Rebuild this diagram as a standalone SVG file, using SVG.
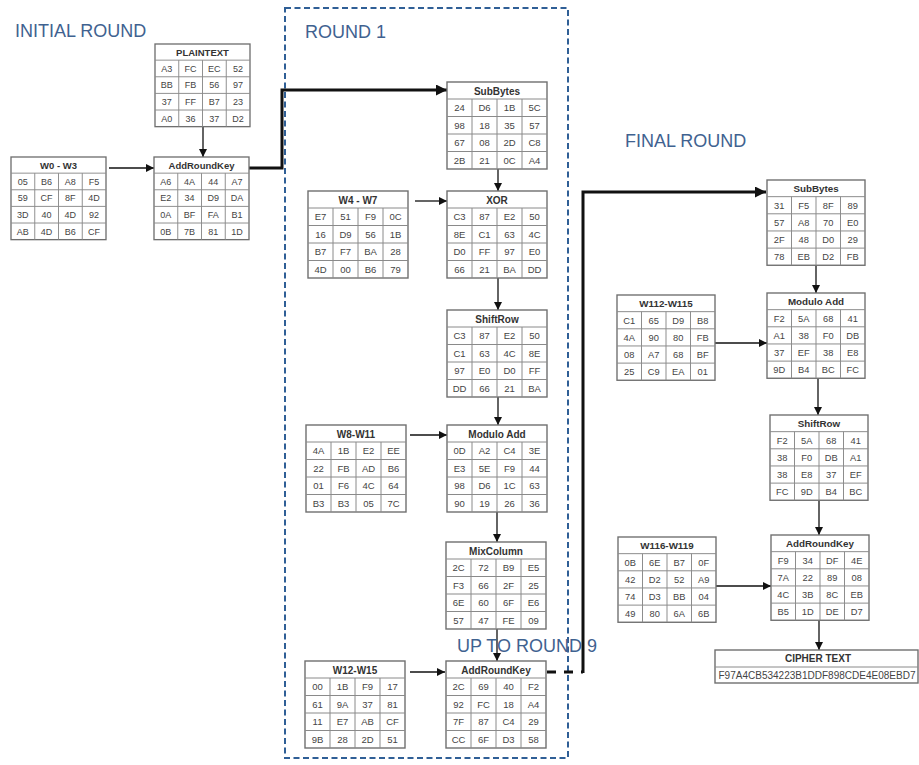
<svg xmlns="http://www.w3.org/2000/svg" xmlns:xlink="http://www.w3.org/1999/xlink" width="919" height="765" viewBox="0 0 919 765">
<style>
.tb{fill:#fff;stroke:#6f6f6f;stroke-width:1.4}
.gr{fill:none;stroke:#8a8a8a;stroke-width:1}
.hd{font-family:"Liberation Sans",Arial,sans-serif;font-size:10px;font-weight:bold;fill:#333;text-anchor:middle}
.c{font-family:"Liberation Sans",Arial,sans-serif;font-size:9.5px;fill:#444;text-anchor:middle}
.ttl{font-family:"Liberation Sans",Arial,sans-serif;font-size:18px;fill:#3F6290}
.ln{fill:none;stroke:#111;stroke-width:1.3}
.tk{fill:none;stroke:#111;stroke-width:3}
.rb{fill:none;stroke:#2F5F96;stroke-width:2;stroke-dasharray:6 3.5}
</style>
<defs>
<marker id="ah" viewBox="0 0 10 10" refX="10" refY="5" markerWidth="8" markerHeight="8" markerUnits="userSpaceOnUse" orient="auto"><path d="M0,0L10,5L0,10z" fill="#111"/></marker>
<marker id="ahb" viewBox="0 0 10 10" refX="10" refY="5" markerWidth="12" markerHeight="11" markerUnits="userSpaceOnUse" orient="auto"><path d="M0,0L10,5L0,10z" fill="#111"/></marker>
<g id="frame"><rect x="0" y="0" width="100" height="87" class="tb"/><path class="gr" d="M0,17H100M0,34.5H100M0,52H100M0,69.5H100M25,17V87M50,17V87M75,17V87"/></g>
</defs>
<rect width="919" height="765" fill="#fff"/>
<rect class="rb" x="285" y="8" width="283" height="750"/>
<text class="ttl" x="15" y="37">INITIAL ROUND</text>
<text class="ttl" x="305" y="38">ROUND 1</text>
<text class="ttl" x="625" y="147">FINAL ROUND</text>

<g id="connectors">
<path class="ln" d="M203,127V157" marker-end="url(#ah)"/>
<path class="ln" d="M109,168H154" marker-end="url(#ah)"/>
<path class="tk" d="M249,168H282V90H447" marker-end="url(#ahb)"/>
<path class="ln" d="M415,201H447" marker-end="url(#ah)"/>
<path class="ln" d="M498,169V191" marker-end="url(#ah)"/>
<path class="ln" d="M498,278V310" marker-end="url(#ah)"/>
<path class="ln" d="M498,397V425" marker-end="url(#ah)"/>
<path class="ln" d="M410,435H447" marker-end="url(#ah)"/>
<path class="ln" d="M497,512V542" marker-end="url(#ah)"/>
<path class="ln" d="M497,629V661" marker-end="url(#ah)"/>
<path class="ln" d="M410,672H445" marker-end="url(#ah)"/>
<path class="tk" d="M547,672H583" stroke-dasharray="9 8"/>
<path class="tk" d="M583,673V192H766" marker-end="url(#ahb)"/>
<path class="ln" d="M816,265V293" marker-end="url(#ah)"/>
<path class="ln" d="M715,343H767" marker-end="url(#ah)"/>
<path class="ln" d="M818,378V415" marker-end="url(#ah)"/>
<path class="ln" d="M819,500V535" marker-end="url(#ah)"/>
<path class="ln" d="M716,586H771" marker-end="url(#ah)"/>
<path class="ln" d="M819,620V650" marker-end="url(#ah)"/>
</g>

<g id="plaintext" transform="translate(155,44) scale(0.95)"><use xlink:href="#frame"/><text class="hd" x="50" y="12.5">PLAINTEXT</text>
<text class="c" y="29.2"><tspan x="12.5">A3</tspan><tspan x="37.5">FC</tspan><tspan x="62.5">EC</tspan><tspan x="87.5">52</tspan></text>
<text class="c" y="46.7"><tspan x="12.5">BB</tspan><tspan x="37.5">FB</tspan><tspan x="62.5">56</tspan><tspan x="87.5">97</tspan></text>
<text class="c" y="64.2"><tspan x="12.5">37</tspan><tspan x="37.5">FF</tspan><tspan x="62.5">B7</tspan><tspan x="87.5">23</tspan></text>
<text class="c" y="81.7"><tspan x="12.5">A0</tspan><tspan x="37.5">36</tspan><tspan x="62.5">37</tspan><tspan x="87.5">D2</tspan></text></g>

<g id="w0w3" transform="translate(11,157) scale(0.95)"><use xlink:href="#frame"/><text class="hd" x="50" y="12.5">W0 - W3</text>
<text class="c" y="29.2"><tspan x="12.5">05</tspan><tspan x="37.5">B6</tspan><tspan x="62.5">A8</tspan><tspan x="87.5">F5</tspan></text>
<text class="c" y="46.7"><tspan x="12.5">59</tspan><tspan x="37.5">CF</tspan><tspan x="62.5">8F</tspan><tspan x="87.5">4D</tspan></text>
<text class="c" y="64.2"><tspan x="12.5">3D</tspan><tspan x="37.5">40</tspan><tspan x="62.5">4D</tspan><tspan x="87.5">92</tspan></text>
<text class="c" y="81.7"><tspan x="12.5">AB</tspan><tspan x="37.5">4D</tspan><tspan x="62.5">B6</tspan><tspan x="87.5">CF</tspan></text></g>

<g id="ark0" transform="translate(154,157) scale(0.95)"><use xlink:href="#frame"/><text class="hd" x="50" y="12.5">AddRoundKey</text>
<text class="c" y="29.2"><tspan x="12.5">A6</tspan><tspan x="37.5">4A</tspan><tspan x="62.5">44</tspan><tspan x="87.5">A7</tspan></text>
<text class="c" y="46.7"><tspan x="12.5">E2</tspan><tspan x="37.5">34</tspan><tspan x="62.5">D9</tspan><tspan x="87.5">DA</tspan></text>
<text class="c" y="64.2"><tspan x="12.5">0A</tspan><tspan x="37.5">BF</tspan><tspan x="62.5">FA</tspan><tspan x="87.5">B1</tspan></text>
<text class="c" y="81.7"><tspan x="12.5">0B</tspan><tspan x="37.5">7B</tspan><tspan x="62.5">81</tspan><tspan x="87.5">1D</tspan></text></g>

<g id="subbytes1" transform="translate(447,82)"><use xlink:href="#frame"/><text class="hd" x="50" y="12.5">SubBytes</text>
<text class="c" y="29.2"><tspan x="12.5">24</tspan><tspan x="37.5">D6</tspan><tspan x="62.5">1B</tspan><tspan x="87.5">5C</tspan></text>
<text class="c" y="46.7"><tspan x="12.5">98</tspan><tspan x="37.5">18</tspan><tspan x="62.5">35</tspan><tspan x="87.5">57</tspan></text>
<text class="c" y="64.2"><tspan x="12.5">67</tspan><tspan x="37.5">08</tspan><tspan x="62.5">2D</tspan><tspan x="87.5">C8</tspan></text>
<text class="c" y="81.7"><tspan x="12.5">2B</tspan><tspan x="37.5">21</tspan><tspan x="62.5">0C</tspan><tspan x="87.5">A4</tspan></text></g>

<g id="w4w7" transform="translate(308,191)"><use xlink:href="#frame"/><text class="hd" x="50" y="12.5">W4 - W7</text>
<text class="c" y="29.2"><tspan x="12.5">E7</tspan><tspan x="37.5">51</tspan><tspan x="62.5">F9</tspan><tspan x="87.5">0C</tspan></text>
<text class="c" y="46.7"><tspan x="12.5">16</tspan><tspan x="37.5">D9</tspan><tspan x="62.5">56</tspan><tspan x="87.5">1B</tspan></text>
<text class="c" y="64.2"><tspan x="12.5">B7</tspan><tspan x="37.5">F7</tspan><tspan x="62.5">BA</tspan><tspan x="87.5">28</tspan></text>
<text class="c" y="81.7"><tspan x="12.5">4D</tspan><tspan x="37.5">00</tspan><tspan x="62.5">B6</tspan><tspan x="87.5">79</tspan></text></g>

<g id="xor" transform="translate(447,191)"><use xlink:href="#frame"/><text class="hd" x="50" y="12.5">XOR</text>
<text class="c" y="29.2"><tspan x="12.5">C3</tspan><tspan x="37.5">87</tspan><tspan x="62.5">E2</tspan><tspan x="87.5">50</tspan></text>
<text class="c" y="46.7"><tspan x="12.5">8E</tspan><tspan x="37.5">C1</tspan><tspan x="62.5">63</tspan><tspan x="87.5">4C</tspan></text>
<text class="c" y="64.2"><tspan x="12.5">D0</tspan><tspan x="37.5">FF</tspan><tspan x="62.5">97</tspan><tspan x="87.5">E0</tspan></text>
<text class="c" y="81.7"><tspan x="12.5">66</tspan><tspan x="37.5">21</tspan><tspan x="62.5">BA</tspan><tspan x="87.5">DD</tspan></text></g>

<g id="shiftrow1" transform="translate(447,310)"><use xlink:href="#frame"/><text class="hd" x="50" y="12.5">ShiftRow</text>
<text class="c" y="29.2"><tspan x="12.5">C3</tspan><tspan x="37.5">87</tspan><tspan x="62.5">E2</tspan><tspan x="87.5">50</tspan></text>
<text class="c" y="46.7"><tspan x="12.5">C1</tspan><tspan x="37.5">63</tspan><tspan x="62.5">4C</tspan><tspan x="87.5">8E</tspan></text>
<text class="c" y="64.2"><tspan x="12.5">97</tspan><tspan x="37.5">E0</tspan><tspan x="62.5">D0</tspan><tspan x="87.5">FF</tspan></text>
<text class="c" y="81.7"><tspan x="12.5">DD</tspan><tspan x="37.5">66</tspan><tspan x="62.5">21</tspan><tspan x="87.5">BA</tspan></text></g>

<g id="w8w11" transform="translate(306,425)"><use xlink:href="#frame"/><text class="hd" x="50" y="12.5">W8-W11</text>
<text class="c" y="29.2"><tspan x="12.5">4A</tspan><tspan x="37.5">1B</tspan><tspan x="62.5">E2</tspan><tspan x="87.5">EE</tspan></text>
<text class="c" y="46.7"><tspan x="12.5">22</tspan><tspan x="37.5">FB</tspan><tspan x="62.5">AD</tspan><tspan x="87.5">B6</tspan></text>
<text class="c" y="64.2"><tspan x="12.5">01</tspan><tspan x="37.5">F6</tspan><tspan x="62.5">4C</tspan><tspan x="87.5">64</tspan></text>
<text class="c" y="81.7"><tspan x="12.5">B3</tspan><tspan x="37.5">B3</tspan><tspan x="62.5">05</tspan><tspan x="87.5">7C</tspan></text></g>

<g id="moduloadd1" transform="translate(447,425)"><use xlink:href="#frame"/><text class="hd" x="50" y="12.5">Modulo Add</text>
<text class="c" y="29.2"><tspan x="12.5">0D</tspan><tspan x="37.5">A2</tspan><tspan x="62.5">C4</tspan><tspan x="87.5">3E</tspan></text>
<text class="c" y="46.7"><tspan x="12.5">E3</tspan><tspan x="37.5">5E</tspan><tspan x="62.5">F9</tspan><tspan x="87.5">44</tspan></text>
<text class="c" y="64.2"><tspan x="12.5">98</tspan><tspan x="37.5">D6</tspan><tspan x="62.5">1C</tspan><tspan x="87.5">63</tspan></text>
<text class="c" y="81.7"><tspan x="12.5">90</tspan><tspan x="37.5">19</tspan><tspan x="62.5">26</tspan><tspan x="87.5">36</tspan></text></g>

<g id="mixcolumn" transform="translate(446,542)"><use xlink:href="#frame"/><text class="hd" x="50" y="12.5">MixColumn</text>
<text class="c" y="29.2"><tspan x="12.5">2C</tspan><tspan x="37.5">72</tspan><tspan x="62.5">B9</tspan><tspan x="87.5">E5</tspan></text>
<text class="c" y="46.7"><tspan x="12.5">F3</tspan><tspan x="37.5">66</tspan><tspan x="62.5">2F</tspan><tspan x="87.5">25</tspan></text>
<text class="c" y="64.2"><tspan x="12.5">6E</tspan><tspan x="37.5">60</tspan><tspan x="62.5">6F</tspan><tspan x="87.5">E6</tspan></text>
<text class="c" y="81.7"><tspan x="12.5">57</tspan><tspan x="37.5">47</tspan><tspan x="62.5">FE</tspan><tspan x="87.5">09</tspan></text></g>

<text class="ttl" x="457" y="652">UP TO ROUND 9</text>

<g id="w12w15" transform="translate(305,661)"><use xlink:href="#frame"/><text class="hd" x="50" y="12.5">W12-W15</text>
<text class="c" y="29.2"><tspan x="12.5">00</tspan><tspan x="37.5">1B</tspan><tspan x="62.5">F9</tspan><tspan x="87.5">17</tspan></text>
<text class="c" y="46.7"><tspan x="12.5">61</tspan><tspan x="37.5">9A</tspan><tspan x="62.5">37</tspan><tspan x="87.5">81</tspan></text>
<text class="c" y="64.2"><tspan x="12.5">11</tspan><tspan x="37.5">E7</tspan><tspan x="62.5">AB</tspan><tspan x="87.5">CF</tspan></text>
<text class="c" y="81.7"><tspan x="12.5">9B</tspan><tspan x="37.5">28</tspan><tspan x="62.5">2D</tspan><tspan x="87.5">51</tspan></text></g>

<g id="ark1" transform="translate(446,661)"><use xlink:href="#frame"/><text class="hd" x="50" y="12.5">AddRoundKey</text>
<text class="c" y="29.2"><tspan x="12.5">2C</tspan><tspan x="37.5">69</tspan><tspan x="62.5">40</tspan><tspan x="87.5">F2</tspan></text>
<text class="c" y="46.7"><tspan x="12.5">92</tspan><tspan x="37.5">FC</tspan><tspan x="62.5">18</tspan><tspan x="87.5">A4</tspan></text>
<text class="c" y="64.2"><tspan x="12.5">7F</tspan><tspan x="37.5">87</tspan><tspan x="62.5">C4</tspan><tspan x="87.5">29</tspan></text>
<text class="c" y="81.7"><tspan x="12.5">CC</tspan><tspan x="37.5">6F</tspan><tspan x="62.5">D3</tspan><tspan x="87.5">58</tspan></text></g>

<g id="subbytesf" transform="translate(767,180) scale(0.98)"><use xlink:href="#frame"/><text class="hd" x="50" y="12.5">SubBytes</text>
<text class="c" y="29.2"><tspan x="12.5">31</tspan><tspan x="37.5">F5</tspan><tspan x="62.5">8F</tspan><tspan x="87.5">89</tspan></text>
<text class="c" y="46.7"><tspan x="12.5">57</tspan><tspan x="37.5">A8</tspan><tspan x="62.5">70</tspan><tspan x="87.5">E0</tspan></text>
<text class="c" y="64.2"><tspan x="12.5">2F</tspan><tspan x="37.5">48</tspan><tspan x="62.5">D0</tspan><tspan x="87.5">29</tspan></text>
<text class="c" y="81.7"><tspan x="12.5">78</tspan><tspan x="37.5">EB</tspan><tspan x="62.5">D2</tspan><tspan x="87.5">FB</tspan></text></g>

<g id="w112w115" transform="translate(617,295) scale(0.98)"><use xlink:href="#frame"/><text class="hd" x="50" y="12.5">W112-W115</text>
<text class="c" y="29.2"><tspan x="12.5">C1</tspan><tspan x="37.5">65</tspan><tspan x="62.5">D9</tspan><tspan x="87.5">B8</tspan></text>
<text class="c" y="46.7"><tspan x="12.5">4A</tspan><tspan x="37.5">90</tspan><tspan x="62.5">80</tspan><tspan x="87.5">FB</tspan></text>
<text class="c" y="64.2"><tspan x="12.5">08</tspan><tspan x="37.5">A7</tspan><tspan x="62.5">68</tspan><tspan x="87.5">BF</tspan></text>
<text class="c" y="81.7"><tspan x="12.5">25</tspan><tspan x="37.5">C9</tspan><tspan x="62.5">EA</tspan><tspan x="87.5">01</tspan></text></g>

<g id="moduloaddf" transform="translate(767,293) scale(0.98)"><use xlink:href="#frame"/><text class="hd" x="50" y="12.5">Modulo Add</text>
<text class="c" y="29.2"><tspan x="12.5">F2</tspan><tspan x="37.5">5A</tspan><tspan x="62.5">68</tspan><tspan x="87.5">41</tspan></text>
<text class="c" y="46.7"><tspan x="12.5">A1</tspan><tspan x="37.5">38</tspan><tspan x="62.5">F0</tspan><tspan x="87.5">DB</tspan></text>
<text class="c" y="64.2"><tspan x="12.5">37</tspan><tspan x="37.5">EF</tspan><tspan x="62.5">38</tspan><tspan x="87.5">E8</tspan></text>
<text class="c" y="81.7"><tspan x="12.5">9D</tspan><tspan x="37.5">B4</tspan><tspan x="62.5">BC</tspan><tspan x="87.5">FC</tspan></text></g>

<g id="shiftrowf" transform="translate(770,415) scale(0.98)"><use xlink:href="#frame"/><text class="hd" x="50" y="12.5">ShiftRow</text>
<text class="c" y="29.2"><tspan x="12.5">F2</tspan><tspan x="37.5">5A</tspan><tspan x="62.5">68</tspan><tspan x="87.5">41</tspan></text>
<text class="c" y="46.7"><tspan x="12.5">38</tspan><tspan x="37.5">F0</tspan><tspan x="62.5">DB</tspan><tspan x="87.5">A1</tspan></text>
<text class="c" y="64.2"><tspan x="12.5">38</tspan><tspan x="37.5">E8</tspan><tspan x="62.5">37</tspan><tspan x="87.5">EF</tspan></text>
<text class="c" y="81.7"><tspan x="12.5">FC</tspan><tspan x="37.5">9D</tspan><tspan x="62.5">B4</tspan><tspan x="87.5">BC</tspan></text></g>

<g id="w116w119" transform="translate(618,537) scale(0.98)"><use xlink:href="#frame"/><text class="hd" x="50" y="12.5">W116-W119</text>
<text class="c" y="29.2"><tspan x="12.5">0B</tspan><tspan x="37.5">6E</tspan><tspan x="62.5">B7</tspan><tspan x="87.5">0F</tspan></text>
<text class="c" y="46.7"><tspan x="12.5">42</tspan><tspan x="37.5">D2</tspan><tspan x="62.5">52</tspan><tspan x="87.5">A9</tspan></text>
<text class="c" y="64.2"><tspan x="12.5">74</tspan><tspan x="37.5">D3</tspan><tspan x="62.5">BB</tspan><tspan x="87.5">04</tspan></text>
<text class="c" y="81.7"><tspan x="12.5">49</tspan><tspan x="37.5">80</tspan><tspan x="62.5">6A</tspan><tspan x="87.5">6B</tspan></text></g>

<g id="arkf" transform="translate(771,535) scale(0.98)"><use xlink:href="#frame"/><text class="hd" x="50" y="12.5">AddRoundKey</text>
<text class="c" y="29.2"><tspan x="12.5">F9</tspan><tspan x="37.5">34</tspan><tspan x="62.5">DF</tspan><tspan x="87.5">4E</tspan></text>
<text class="c" y="46.7"><tspan x="12.5">7A</tspan><tspan x="37.5">22</tspan><tspan x="62.5">89</tspan><tspan x="87.5">08</tspan></text>
<text class="c" y="64.2"><tspan x="12.5">4C</tspan><tspan x="37.5">3B</tspan><tspan x="62.5">8C</tspan><tspan x="87.5">EB</tspan></text>
<text class="c" y="81.7"><tspan x="12.5">B5</tspan><tspan x="37.5">1D</tspan><tspan x="62.5">DE</tspan><tspan x="87.5">D7</tspan></text></g>

<g id="ciphertext"><rect class="tb" x="715" y="650" width="203" height="33"/><path class="gr" d="M715,667H918"/>
<text class="hd" x="818" y="662">CIPHER TEXT</text>
<text x="718.5" y="679" textLength="197" lengthAdjust="spacingAndGlyphs" style="font-family:'Liberation Sans',Arial,sans-serif;font-size:10px;fill:#444">F97A4CB534223B1DDF898CDE4E08EBD7</text></g>
</svg>
